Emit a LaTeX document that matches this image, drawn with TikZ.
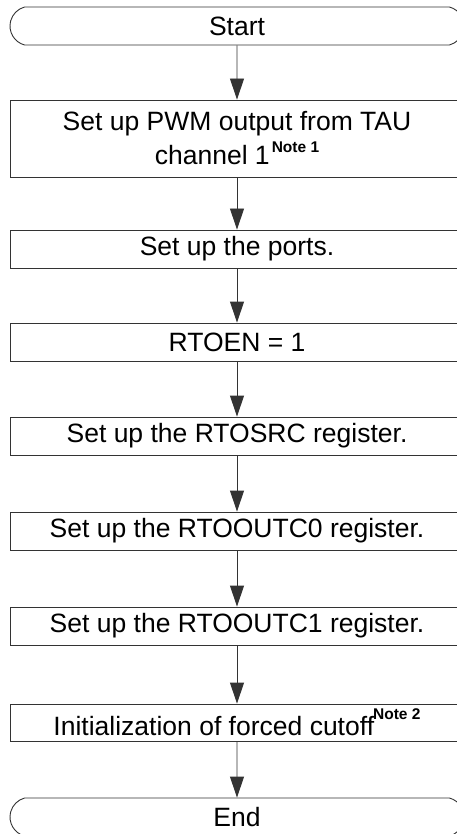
\documentclass[tikz,border=0pt]{standalone}
\usepackage{fontspec}
\setmainfont{Liberation Sans}
\usetikzlibrary{arrows.meta,shapes.misc}
\newcommand{\notemark}[3]{\raisebox{#2pt}{\fontsize{#1}{#1}\selectfont\bfseries #3}}
\tikzset{
  every node/.style={font=\fontsize{26.5}{34}\selectfont, text=black, inner sep=0pt},
  stepbox/.style={draw=black!80, line width=0.9pt, rectangle, minimum width=454pt, minimum height=38pt, align=center},
  termbox/.style={draw=black!80, line width=0.9pt, rounded rectangle, rounded rectangle arc length=150, minimum width=454pt, minimum height=38pt},
  flow/.style={draw=black!80, line width=0.9pt, -{Triangle[width=14pt,length=21pt]}}
}
\begin{document}
\begin{tikzpicture}[x=1pt,y=-1pt]
\useasboundingbox (0,0) rectangle (457,834);
\clip (0,0) rectangle (457,834);
\node[termbox] (start) at (237,26) {Start};
\node[stepbox, minimum height=77pt] (pwm) at (237,138.5) {Set up PWM output from TAU\\channel 1\kern2pt\notemark{15.5}{12}{Note 1}};
\node[stepbox] (ports) at (237,249) {Set up the ports.};
\node[stepbox] (rtoen) at (237,342) {RTOEN = 1};
\node[stepbox] (src) at (237,436) {Set up the RTOSRC register.};
\node[stepbox] (out0) at (237,531) {Set up the RTOOUTC0 register.};
\node[stepbox] (out1) at (237,626) {Set up the RTOOUTC1 register.};
\node[stepbox, minimum height=37pt] (init) at (237,722.5) {Initialization of forced cutoff\kern-1pt\notemark{15.5}{16}{Note 2}};
\node[termbox] (end) at (237,817) {End};
\draw[flow] (start) -- (pwm);
\draw[flow] (pwm) -- (ports);
\draw[flow] (ports) -- (rtoen);
\draw[flow] (rtoen) -- (src);
\draw[flow] (src) -- (out0);
\draw[flow] (out0) -- (out1);
\draw[flow] (out1) -- (init);
\draw[flow] (init) -- (end);
\end{tikzpicture}
\end{document}
